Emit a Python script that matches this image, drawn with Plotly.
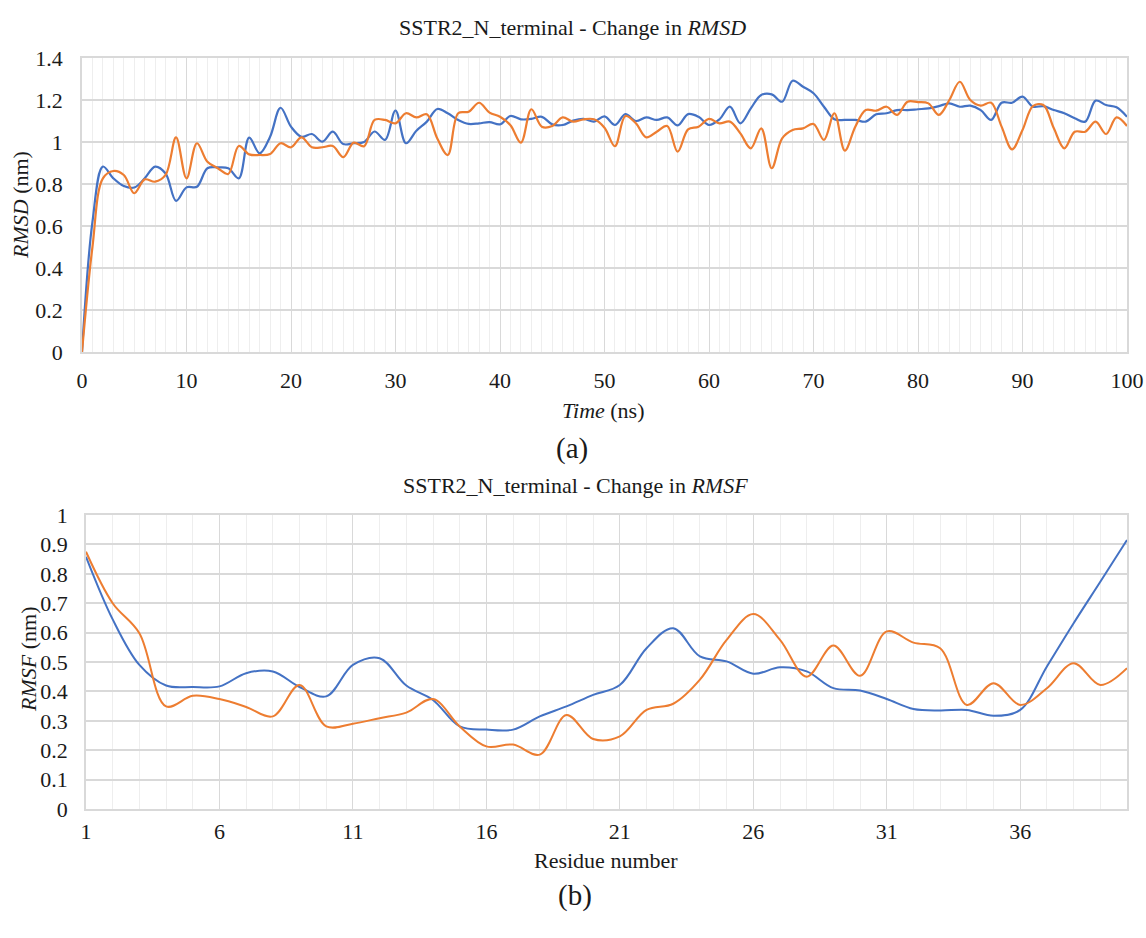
import plotly.graph_objects as go

# ---------------- Data ----------------
time_ns = list(range(0, 101))
rmsd_blue = [0.0, 0.62, 0.883, 0.827, 0.79, 0.783, 0.827, 0.883, 0.85, 0.72,
             0.784, 0.787, 0.875, 0.879, 0.875, 0.827, 1.021, 0.946, 1.025, 1.163,
             1.073, 1.025, 1.038, 1.002, 1.049, 0.99, 0.994, 1.0, 1.05, 1.01,
             1.15, 0.994, 1.054, 1.097, 1.157, 1.137, 1.105, 1.086, 1.089, 1.095,
             1.084, 1.124, 1.108, 1.11, 1.12, 1.084, 1.081, 1.102, 1.11, 1.097,
             1.122, 1.081, 1.133, 1.1, 1.117, 1.105, 1.117, 1.079, 1.133, 1.12,
             1.081, 1.108, 1.168, 1.089, 1.16, 1.224, 1.227, 1.192, 1.292, 1.263,
             1.232, 1.168, 1.108, 1.105, 1.105, 1.097, 1.132, 1.137, 1.152, 1.152,
             1.156, 1.16, 1.171, 1.184, 1.168, 1.173, 1.152, 1.105, 1.187, 1.187,
             1.216, 1.168, 1.171, 1.152, 1.137, 1.113, 1.097, 1.197, 1.176, 1.165,
             1.12]
rmsd_orange = [0.0, 0.5, 0.827, 0.862, 0.843, 0.756, 0.822, 0.811, 0.843, 1.022,
               0.827, 0.994, 0.906, 0.875, 0.848, 0.981, 0.941, 0.938, 0.943, 0.994,
               0.975, 1.022, 0.975, 0.975, 0.981, 0.928, 0.997, 0.98, 1.105, 1.105,
               1.089, 1.137, 1.117, 1.132, 1.017, 0.938, 1.137, 1.144, 1.187, 1.14,
               1.12, 1.08, 0.997, 1.156, 1.073, 1.076, 1.117, 1.097, 1.108, 1.108,
               1.068, 0.98, 1.124, 1.089, 1.022, 1.049, 1.076, 0.954, 1.06, 1.073,
               1.11, 1.089, 1.097, 1.041, 0.97, 1.065, 0.875, 1.017, 1.057, 1.065,
               1.086, 1.01, 1.137, 0.959, 1.073, 1.152, 1.149, 1.168, 1.129, 1.192,
               1.19, 1.184, 1.129, 1.2, 1.287, 1.2, 1.173, 1.187, 1.073, 0.965,
               1.057, 1.171, 1.176, 1.065, 0.97, 1.049, 1.049, 1.097, 1.038, 1.117,
               1.076]

residue = list(range(1, 41))
rmsf_blue = [0.858, 0.645, 0.49, 0.42, 0.415, 0.417, 0.462, 0.468, 0.415, 0.383,
             0.49, 0.513, 0.42, 0.371, 0.281, 0.27, 0.27, 0.315, 0.349, 0.388,
             0.422, 0.547, 0.615, 0.519, 0.502, 0.46, 0.482, 0.468, 0.411, 0.403,
             0.374, 0.34, 0.335, 0.337, 0.317, 0.337, 0.485, 0.632, 0.773, 0.915]
rmsf_orange = [0.875, 0.70, 0.598, 0.349, 0.385, 0.374, 0.347, 0.315, 0.422, 0.281,
               0.29, 0.309, 0.328, 0.374, 0.281, 0.213, 0.219, 0.185, 0.32, 0.238,
               0.247, 0.337, 0.358, 0.44, 0.575, 0.663, 0.575, 0.45, 0.556, 0.453,
               0.604, 0.566, 0.547, 0.354, 0.428, 0.354, 0.411, 0.496, 0.422, 0.479]

rmsd_yticks = [0, 0.2, 0.4, 0.6, 0.8, 1.0, 1.2, 1.4]
rmsd_yticktext = ["0", "0.2", "0.4", "0.6", "0.8", "1", "1.2", "1.4"]
rmsd_xticks = [0, 10, 20, 30, 40, 50, 60, 70, 80, 90, 100]
rmsf_yticks = [0, 0.1, 0.2, 0.3, 0.4, 0.5, 0.6, 0.7, 0.8, 0.9, 1.0]
rmsf_yticktext = ["0", "0.1", "0.2", "0.3", "0.4", "0.5", "0.6", "0.7", "0.8", "0.9", "1"]
rmsf_xticks = [1, 6, 11, 16, 21, 26, 31, 36]

BLUE = "#4472C4"
ORANGE = "#ED7D31"
FONT = "Liberation Serif"
TXT = "#1a1a1a"
GRID = "#d9d9d9"
MINOR = "#eeeeee"

W, H = 1146, 938

def px_x(p):
    return p / W

def px_y(p):
    return 1 - p / H

fig = go.Figure()
fig.add_trace(go.Scatter(x=time_ns, y=rmsd_blue, mode="lines",
                         line=dict(color=BLUE, width=2.2, shape="spline", smoothing=1.0),
                         xaxis="x", yaxis="y", showlegend=False))
fig.add_trace(go.Scatter(x=time_ns, y=rmsd_orange, mode="lines",
                         line=dict(color=ORANGE, width=2.2, shape="spline", smoothing=1.0),
                         xaxis="x", yaxis="y", showlegend=False))
fig.add_trace(go.Scatter(x=residue, y=rmsf_blue, mode="lines",
                         line=dict(color=BLUE, width=2, shape="spline", smoothing=1.0),
                         xaxis="x2", yaxis="y2", showlegend=False))
fig.add_trace(go.Scatter(x=residue, y=rmsf_orange, mode="lines",
                         line=dict(color=ORANGE, width=2, shape="spline", smoothing=1.0),
                         xaxis="x2", yaxis="y2", showlegend=False))

tickfont = dict(family=FONT, size=22, color=TXT)

common = dict(showgrid=True, gridcolor=GRID, showline=True, linecolor=GRID,
              linewidth=1.5, mirror=True, ticks="", zeroline=False, automargin=False)

fig.update_layout(
    width=W, height=H,
    margin=dict(l=0, r=0, t=0, b=0),
    paper_bgcolor="white", plot_bgcolor="white",
    font=dict(family=FONT, color=TXT),
    xaxis=dict(domain=[px_x(82), px_x(1127)], anchor="y", range=[0, 100],
               tickvals=rmsd_xticks, tickfont=tickfont, gridwidth=1,
               minor=dict(dtick=1, tick0=0, showgrid=True, gridcolor=MINOR, gridwidth=1),
               ticklabelstandoff=8, **common),
    yaxis=dict(domain=[px_y(352), px_y(58)], anchor="x", range=[0, 1.4],
               tickvals=rmsd_yticks, ticktext=rmsd_yticktext, tickfont=tickfont,
               gridwidth=1.5, ticklabelstandoff=13, **common),
    xaxis2=dict(domain=[px_x(86), px_x(1127)], anchor="y2", range=[1, 40],
                tickvals=rmsf_xticks, tickfont=tickfont, gridwidth=1,
                minor=dict(dtick=1, tick0=1, showgrid=True, gridcolor=MINOR, gridwidth=1),
                ticklabelstandoff=2, **common),
    yaxis2=dict(domain=[px_y(809), px_y(515)], anchor="x2", range=[0, 1.0],
                tickvals=rmsf_yticks, ticktext=rmsf_yticktext, tickfont=tickfont,
                gridwidth=1.5, ticklabelstandoff=12, **common),
    annotations=[
        dict(text="SSTR2_N_terminal - Change in <i>RMSD</i>", x=px_x(572), y=px_y(28),
             xref="paper", yref="paper", showarrow=False, xanchor="center", yanchor="middle",
             font=dict(family=FONT, size=22, color=TXT)),
        dict(text="<i>Time</i> (ns)", x=px_x(603), y=px_y(410),
             xref="paper", yref="paper", showarrow=False, xanchor="center", yanchor="middle",
             font=dict(family=FONT, size=22, color=TXT)),
        dict(text="<i>RMSD</i> (nm)", x=px_x(20), y=px_y(205), textangle=-90,
             xref="paper", yref="paper", showarrow=False, xanchor="center", yanchor="middle",
             font=dict(family=FONT, size=22, color=TXT)),
        dict(text="(a)", x=px_x(572), y=px_y(448), xref="paper", yref="paper",
             showarrow=False, xanchor="center", yanchor="middle",
             font=dict(family=FONT, size=29, color=TXT)),
        dict(text="SSTR2_N_terminal - Change in <i>RMSF</i>", x=px_x(575), y=px_y(485),
             xref="paper", yref="paper", showarrow=False, xanchor="center", yanchor="middle",
             font=dict(family=FONT, size=22, color=TXT)),
        dict(text="Residue number", x=px_x(606), y=px_y(860),
             xref="paper", yref="paper", showarrow=False, xanchor="center", yanchor="middle",
             font=dict(family=FONT, size=22, color=TXT)),
        dict(text="<i>RMSF</i> (nm)", x=px_x(28), y=px_y(660), textangle=-90,
             xref="paper", yref="paper", showarrow=False, xanchor="center", yanchor="middle",
             font=dict(family=FONT, size=22, color=TXT)),
        dict(text="(b)", x=px_x(575), y=px_y(895), xref="paper", yref="paper",
             showarrow=False, xanchor="center", yanchor="middle",
             font=dict(family=FONT, size=29, color=TXT)),
    ],
)

fig.write_html("out.html")
